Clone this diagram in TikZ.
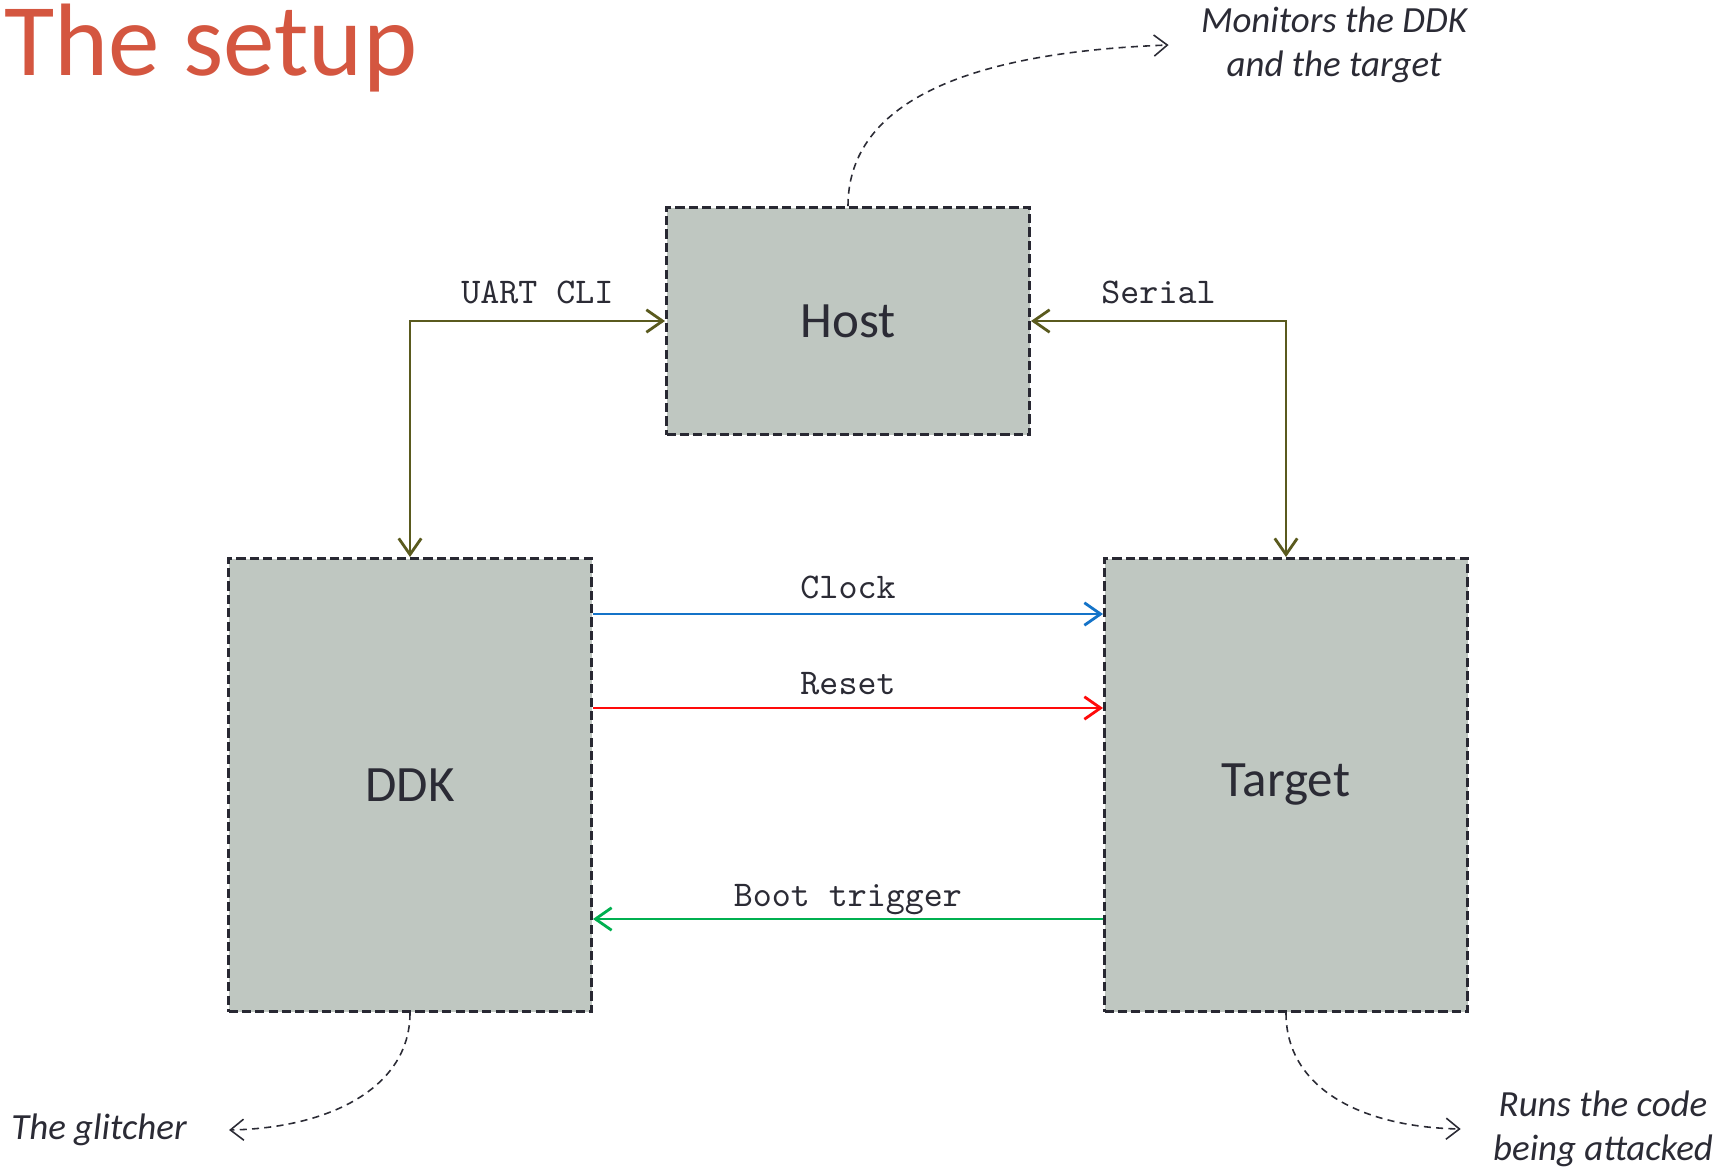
\documentclass[tikz,border=0pt]{standalone}
\usepackage{fontspec}
\setmainfont{Carlito}
\usepackage{xcolor}
\usepackage{tikz}
\usetikzlibrary{arrows.meta,positioning}

\begin{document}
\begin{tikzpicture}[
    node distance=1.21cm and 1.8cm,
    box/.style={
        draw=boxline,
        fill=boxfill,
        dashed,
        dash pattern=on 2.6pt off 1.2pt,
        line width=0.85pt,
        rectangle,
        minimum width=3.63cm,
        text=textdark,
        font=\fontsize{14.5}{17}\selectfont
    },
    sig/.style={-{Straight Barb[length=4.6pt,width=6.4pt]}, line width=0.8pt},
    sigboth/.style={{Straight Barb[length=4.6pt,width=6.4pt]}-{Straight Barb[length=4.6pt,width=6.4pt]}, line width=0.8pt},
    lbl/.style={font=\ttfamily\fontsize{10.3}{12}\selectfont, text=textdark, inner sep=2pt},
    note/.style={font=\itshape\fontsize{10.5}{12.6}\selectfont, text=textdark, align=center},
    notearrow/.style={-{Straight Barb[length=3.8pt,width=6pt]}, dashed,
        dash pattern=on 2pt off 1.5pt, line width=0.45pt, draw=textdark}
]

%--- Color Definitions ---%
\definecolor{boxfill}{RGB}{191,199,193}
\definecolor{boxline}{RGB}{40,40,50}
\definecolor{textdark}{RGB}{43,43,53}
\definecolor{titlecolor}{RGB}{212,86,64}
\definecolor{uartcolor}{RGB}{90,90,30}
\definecolor{clockcolor}{RGB}{20,115,200}
\definecolor{resetcolor}{RGB}{255,10,10}
\definecolor{bootcolor}{RGB}{0,176,80}

\useasboundingbox (0,0) rectangle (17.31,-11.71);

%-----------------------------------------------
% TITLE
%-----------------------------------------------
\node[anchor=base west, inner sep=0pt, text=titlecolor,
      font=\fontsize{29.3}{35}\selectfont]
    (title) at (0.04,-0.75) {The setup};

%-----------------------------------------------
% BOXES
%-----------------------------------------------
\node[box, minimum height=2.27cm]
    (host) at (8.48,-3.21) {Host};

\node[box, minimum height=4.53cm,
      below=of host, xshift=-4.38cm]
    (ddk) {DDK};

\node[box, minimum height=4.53cm,
      below=of host, xshift=4.38cm]
    (target) {Target};

%-----------------------------------------------
% NOTES
%-----------------------------------------------
\node[note] (monitors) at (13.34,-0.45) {Monitors the DDK\\and the target};
\node[note] (glitcher) at (0.99,-11.30) {The glitcher};
\node[note] (runs) at (16.03,-11.29) {Runs the code\\being attacked};

%-----------------------------------------------
% CONNECTIONS
%-----------------------------------------------
\draw[sigboth, draw=uartcolor] (ddk.north) |- (host.west)
    node[lbl, pos=0.75, above=2.5pt] (uartlbl) {UART CLI};
\draw[sigboth, draw=uartcolor] (host.east) -| (target.north)
    node[lbl, pos=0.25, above=2.5pt] (seriallbl) {Serial};

\draw[sig, draw=clockcolor]
    ([yshift=-0.57cm]ddk.north east) -- ([yshift=-0.57cm]target.north west)
    node[lbl, midway, above=2pt] (clocklbl) {Clock};
\draw[sig, draw=resetcolor]
    ([yshift=-1.51cm]ddk.north east) -- ([yshift=-1.51cm]target.north west)
    node[lbl, midway, above=1.4pt] (resetlbl) {Reset};
\draw[sig, draw=bootcolor]
    ([yshift=-3.62cm]target.north west) -- ([yshift=-3.62cm]ddk.north east)
    node[lbl, midway, above=-1.1pt] (bootlbl) {Boot trigger};

%-----------------------------------------------
% NOTE ARROWS
%-----------------------------------------------
\draw[notearrow] (host.north)
    .. controls +(0,0.95) and +(-2.2,-0.08) .. ([xshift=-0.2cm]monitors.west);
\draw[notearrow] (ddk.south)
    .. controls +(0,-0.75) and +(1.0,0.02) .. ([xshift=0.3cm]glitcher.east);
\draw[notearrow] (target.south)
    .. controls +(0,-0.75) and +(-1.0,0.02) .. ([xshift=-0.2cm]runs.west);

\end{tikzpicture}
\end{document}
